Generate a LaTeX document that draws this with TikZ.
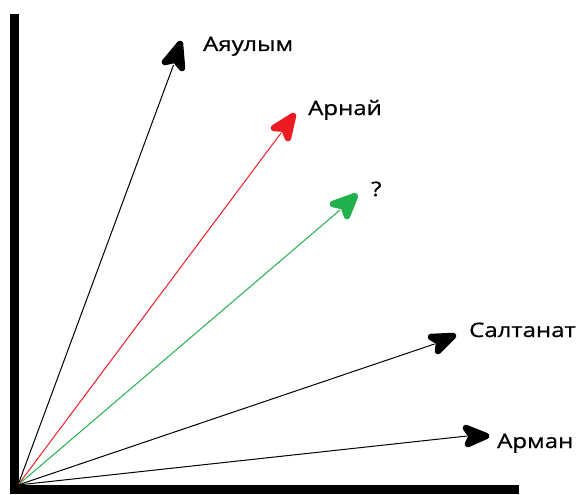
\documentclass[tikz,border=0pt]{standalone}
\usepackage{fontspec}
\setmainfont{Open Sans}[FakeStretch=1.2,FakeBold=0.8]
\usetikzlibrary{calc}
\definecolor{paintred}{HTML}{ED1C24}
\definecolor{paintgreen}{HTML}{22B14C}
\begin{document}
\begin{tikzpicture}[x=1pt,y=-1pt,
  axis/.style={line width=9pt,line cap=butt},
  vec/.style={line width=1pt},
  head/.style={line width=6.5pt,line cap=round,line join=round},
  lbl/.style={anchor=base west,inner sep=0pt,font=\fontsize{20}{20}\selectfont}]
\useasboundingbox (0,0) rectangle (576,495);
% axes
\coordinate (O) at (18,485);
\coordinate (ybot) at (14.5,494);
\coordinate (ytop) at (14.5,14);
\coordinate (xbeg) at (10,489.5);
\coordinate (xend) at (519,489.5);
\draw[axis] (ybot) -- (ytop);
\draw[axis] (xbeg) -- (xend);
% vectors: tip and two barbs each
\coordinate (t1) at (180,44);  \coordinate (a1) at (165,62); \coordinate (b1) at (182,68);
\coordinate (t2) at (293,116); \coordinate (a2) at (274,128); \coordinate (b2) at (288,138);
\coordinate (t3) at (355,196); \coordinate (a3) at (333,204); \coordinate (b3) at (347,216);
\coordinate (t4) at (453,336); \coordinate (a4) at (431,337); \coordinate (b4) at (438,351);
\coordinate (t5) at (486,436); \coordinate (a5) at (466,428); \coordinate (b5) at (468,444);
% shafts
\draw[vec] (O) -- ($(a1)!0.5!(b1)$);
\draw[vec,paintred] (O) -- ($(a2)!0.5!(b2)$);
\draw[vec,paintgreen] (O) -- ($(a3)!0.5!(b3)$);
\draw[vec] (O) -- ($(a4)!0.5!(b4)$);
\draw[vec] (O) -- ($(a5)!0.5!(b5)$);
% heads, notched at the back
\filldraw[head] (a1) -- (t1) -- (b1) -- ($(a1)!0.5!(b1)!0.25!(t1)$) -- cycle;
\filldraw[head,paintred] (a2) -- (t2) -- (b2) -- ($(a2)!0.5!(b2)!0.25!(t2)$) -- cycle;
\filldraw[head,paintgreen] (a3) -- (t3) -- (b3) -- ($(a3)!0.5!(b3)!0.25!(t3)$) -- cycle;
\filldraw[head] (a4) -- (t4) -- (b4) -- ($(a4)!0.5!(b4)!0.25!(t4)$) -- cycle;
\filldraw[head] (a5) -- (t5) -- (b5) -- ($(a5)!0.5!(b5)!0.25!(t5)$) -- cycle;
% labels
\node[lbl] (l1) at (203,51) {Аяулым};
\node[lbl] (l2) at (308,115) {Арнай};
\node[lbl] (l3) at (371,196) {?};
\node[lbl] (l4) at (469,337) {Салтанат};
\node[lbl] (l5) at (497,448) {Арман};
\end{tikzpicture}
\end{document}
